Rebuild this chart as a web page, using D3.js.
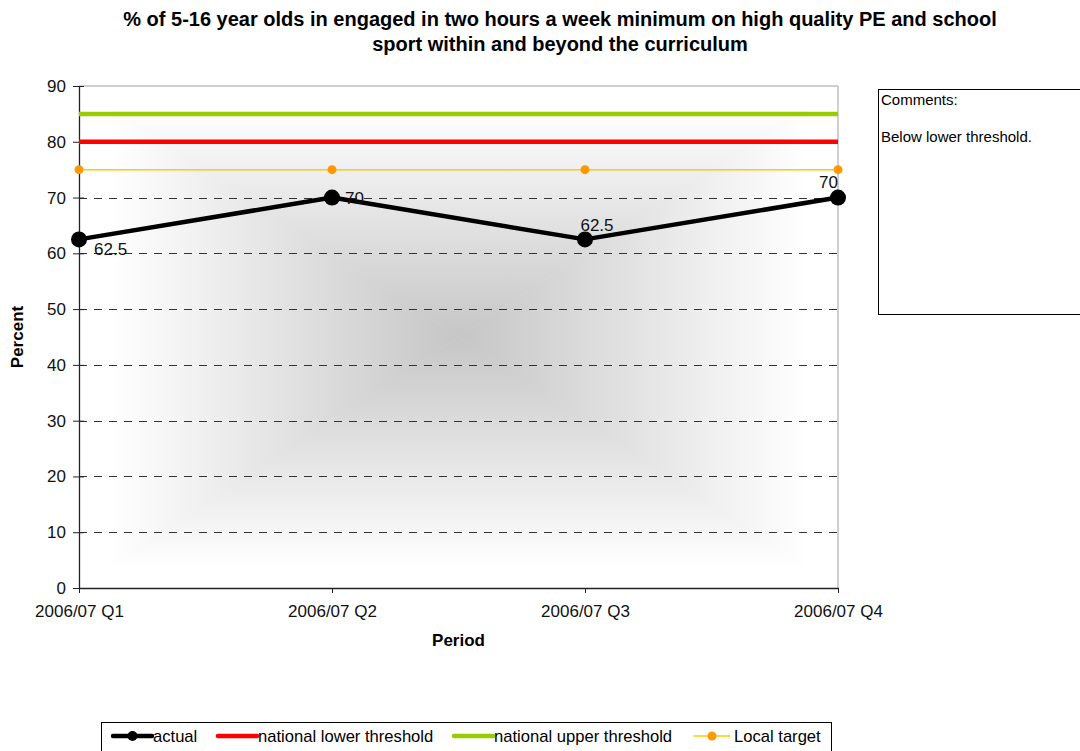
<!DOCTYPE html>
<html>
<head>
<meta charset="utf-8">
<script src="https://cdn.jsdelivr.net/npm/d3@7"></script>
<style>
  html, body { margin: 0; padding: 0; background: #fff; }
  svg { display: block; font-family: Arial, "Liberation Sans", sans-serif; }
</style>
</head>
<body>
<svg id="chart" width="1080" height="751"></svg>
<script>
// Chart data
const periods = ["2006/07 Q1", "2006/07 Q2", "2006/07 Q3", "2006/07 Q4"];
const actual = [62.5, 70, 62.5, 70];
const nationalLower = [80, 80, 80, 80];
const nationalUpper = [85, 85, 85, 85];
const localTarget = [75, 75, 75, 75];
const yTicks = [0, 10, 20, 30, 40, 50, 60, 70, 80, 90];
const titleLines = [
  "% of 5-16 year olds in engaged in two hours a week minimum on high quality PE and school",
  "sport within and beyond the curriculum"
];
const commentLines = ["Comments:", "", "Below lower threshold."];
const legendItems = ["actual", "national lower threshold", "national upper threshold", "Local target"];

const FONT = "Arial, 'Liberation Sans', sans-serif";
const svg = d3.select("#chart");
const plot = { left: 79, right: 838, top: 86, bottom: 588 };

const x = d3.scalePoint().domain(periods).range([plot.left, plot.right]);
const y = d3.scaleLinear().domain([0, 90]).range([plot.bottom, plot.top]);

// Plot background: rectangular "from centre" gradient built from four triangles
const defs = svg.append("defs");
const cx = (plot.left + plot.right) / 2, cy = (plot.top + plot.bottom) / 2;
const centreGrey = "#c6c6c6";
const tris = [
  { id: "gT", pts: [[plot.left, plot.top], [plot.right, plot.top], [cx, cy]], g: [cx, plot.top, cx, cy] },
  { id: "gB", pts: [[plot.left, plot.bottom], [plot.right, plot.bottom], [cx, cy]], g: [cx, plot.bottom, cx, cy] },
  { id: "gL", pts: [[plot.left, plot.top], [plot.left, plot.bottom], [cx, cy]], g: [plot.left, cy, cx, cy] },
  { id: "gR", pts: [[plot.right, plot.top], [plot.right, plot.bottom], [cx, cy]], g: [plot.right, cy, cx, cy] }
];
tris.forEach(t => {
  const lg = defs.append("linearGradient").attr("id", t.id)
    .attr("gradientUnits", "userSpaceOnUse")
    .attr("x1", t.g[0]).attr("y1", t.g[1]).attr("x2", t.g[2]).attr("y2", t.g[3]);
  lg.append("stop").attr("offset", "0").attr("stop-color", "#ffffff");
  lg.append("stop").attr("offset", "0.08").attr("stop-color", "#ffffff");
  lg.append("stop").attr("offset", "1").attr("stop-color", centreGrey);
  svg.append("polygon")
    .attr("points", t.pts.map(p => p.join(",")).join(" "))
    .attr("fill", `url(#${t.id})`)
    .attr("stroke", `url(#${t.id})`).attr("stroke-width", 0.6);
});

// Plot frame (top and right)
svg.append("path")
  .attr("d", `M${plot.left},${plot.top}H${plot.right}V${plot.bottom}`)
  .attr("fill", "none").attr("stroke", "#a0a0a0").attr("stroke-width", 1);

// Dashed gridlines
svg.append("g").selectAll("line")
  .data(yTicks.filter(d => d > 0 && d < 90))
  .join("line")
  .attr("x1", plot.left).attr("x2", plot.right)
  .attr("y1", d => Math.round(y(d)) + 0.5).attr("y2", d => Math.round(y(d)) + 0.5)
  .attr("stroke", "#333").attr("stroke-width", 1).attr("stroke-dasharray", "8,7");

// Axes
const yAxis = svg.append("g").attr("transform", `translate(${plot.left},0)`)
  .call(d3.axisLeft(y).tickValues(yTicks).tickSize(6).tickSizeOuter(0).tickPadding(7));
const xAxis = svg.append("g").attr("transform", `translate(0,${plot.bottom})`)
  .call(d3.axisBottom(x).tickSize(5).tickSizeOuter(0).tickPadding(12));
[yAxis, xAxis].forEach(a => {
  a.attr("font-size", 17).attr("font-family", FONT);
  a.select(".domain").attr("stroke", "#222").attr("stroke-width", 1.3);
  a.selectAll(".tick line").attr("stroke", "#222");
  a.selectAll(".tick text").attr("fill", "#111");
});
yAxis.selectAll(".tick line").attr("x1", 5).attr("x2", -6);
xAxis.selectAll(".tick line").attr("y1", 0).attr("y2", 5);

// Series
const line = d3.line().x((d, i) => x(periods[i])).y(d => y(d));
svg.append("path").datum(nationalUpper).attr("d", line)
  .attr("fill", "none").attr("stroke", "#99cc00").attr("stroke-width", 4.5);
svg.append("path").datum(nationalLower).attr("d", line)
  .attr("fill", "none").attr("stroke", "#ff0000").attr("stroke-width", 4.5);
svg.append("path").datum(localTarget).attr("d", line)
  .attr("fill", "none").attr("stroke", "#ffcc00").attr("stroke-width", 1.5);
svg.append("g").selectAll("circle").data(localTarget).join("circle")
  .attr("cx", (d, i) => x(periods[i])).attr("cy", d => y(d)).attr("r", 4.5)
  .attr("fill", "#ff9900");

svg.append("path").datum(actual).attr("d", line)
  .attr("fill", "none").attr("stroke", "#000").attr("stroke-width", 4.5)
  .attr("stroke-linejoin", "round");
svg.append("g").selectAll("circle").data(actual).join("circle")
  .attr("cx", (d, i) => x(periods[i])).attr("cy", d => y(d)).attr("r", 8)
  .attr("fill", "#000");

// Data labels
const labelOffsets = [[15, 16, "start"], [13, 6, "start"], [12, -8.5, "middle"], [0, -9.5, "end"]];
svg.append("g").selectAll("text").data(actual).join("text")
  .attr("x", (d, i) => x(periods[i]) + labelOffsets[i][0])
  .attr("y", (d, i) => y(d) + labelOffsets[i][1])
  .attr("text-anchor", (d, i) => labelOffsets[i][2])
  .attr("font-size", 17).attr("fill", "#111")
  .text(d => d);

// Title
svg.append("g").selectAll("text").data(titleLines).join("text")
  .attr("x", 560).attr("y", (d, i) => 26 + i * 25)
  .attr("text-anchor", "middle").attr("font-size", 20).attr("font-weight", "bold")
  .attr("fill", "#000").text(d => d);

// Axis titles
svg.append("text").attr("transform", `translate(23,${cy}) rotate(-90)`)
  .attr("text-anchor", "middle").attr("font-size", 17).attr("font-weight", "bold")
  .text("Percent");
svg.append("text").attr("x", cx).attr("y", 646)
  .attr("text-anchor", "middle").attr("font-size", 17).attr("font-weight", "bold")
  .text("Period");

// Comments box
svg.append("rect").attr("x", 878.5).attr("y", 89.5).attr("width", 210).attr("height", 225)
  .attr("fill", "#fff").attr("stroke", "#000").attr("stroke-width", 1);
svg.append("g").selectAll("text").data(commentLines).join("text")
  .attr("x", 881).attr("y", (d, i) => 104.5 + i * 18.5)
  .attr("font-size", 15).attr("fill", "#000").text(d => d);

// Legend
const legend = svg.append("g");
legend.append("rect").attr("x", 101.5).attr("y", 722.5).attr("width", 730).attr("height", 40)
  .attr("fill", "#fff").attr("stroke", "#000").attr("stroke-width", 1);
const legendStyle = [
  { x: 113, len: 39, tx: 153, color: "#000", w: 4.5, marker: 5, markerColor: "#000" },
  { x: 218, len: 39, tx: 258, color: "#ff0000", w: 4.5, marker: 0 },
  { x: 454, len: 39, tx: 494, color: "#99cc00", w: 4.5, marker: 0 },
  { x: 694, len: 36, tx: 734, color: "#ffcc00", w: 1.5, marker: 4.5, markerColor: "#ff9900" }
];
legendItems.forEach((name, i) => {
  const s = legendStyle[i], ly = 736;
  legend.append("line").attr("x1", s.x).attr("x2", s.x + s.len).attr("y1", ly).attr("y2", ly)
    .attr("stroke", s.color).attr("stroke-width", s.w).attr("stroke-linecap", "round");
  if (s.marker) legend.append("circle").attr("cx", s.x + s.len / 2).attr("cy", ly).attr("r", s.marker)
    .attr("fill", s.markerColor);
  legend.append("text").attr("x", s.tx).attr("y", ly + 6)
    .attr("font-size", 16.6).attr("fill", "#000").text(name);
});
</script>
</body>
</html>
